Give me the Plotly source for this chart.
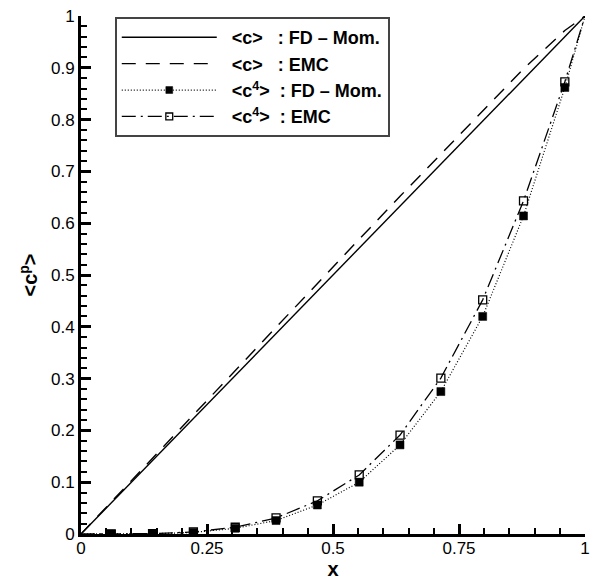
import plotly.graph_objects as go

# ---- data ----
x_lin = [0.0, 1.0]
c_fd = [0.0, 1.0]

x_pts = [0.0, 0.060, 0.142, 0.223, 0.306, 0.387, 0.469, 0.552, 0.633, 0.714, 0.797, 0.878, 0.960, 1.0]
c_emc = [0.0, 0.062, 0.146, 0.229, 0.315, 0.399, 0.484, 0.569, 0.652, 0.734, 0.818, 0.898, 0.972, 1.0]
c4_fd = [0.0, 0.0, 0.0005, 0.003, 0.011, 0.026, 0.056, 0.100, 0.172, 0.275, 0.420, 0.614, 0.862, 1.0]
c4_emc = [0.0, 0.0, 0.0006, 0.004, 0.013, 0.031, 0.064, 0.114, 0.191, 0.301, 0.452, 0.643, 0.873, 1.0]
# markers only at interior points
msize = [0] + [8] * 12 + [0]

names = [
    "&nbsp;&nbsp;&lt;c&gt;&nbsp;&nbsp;&nbsp;: FD \u2013 Mom.",
    "&nbsp;&nbsp;&lt;c&gt;&nbsp;&nbsp;&nbsp;: EMC",
    "&nbsp;&nbsp;&lt;c<sup>4</sup>&gt;&nbsp;&nbsp;: FD \u2013 Mom.",
    "&nbsp;&nbsp;&lt;c<sup>4</sup>&gt;&nbsp;&nbsp;: EMC",
]

FONT = "Liberation Sans, Arial, Helvetica, sans-serif"

fig = go.Figure()
fig.add_trace(go.Scatter(x=x_lin, y=c_fd, mode="lines", name=names[0],
                         line=dict(color="black", width=1.4)))
fig.add_trace(go.Scatter(x=x_pts, y=c_emc, mode="lines", name=names[1],
                         line=dict(color="black", width=1.4, dash="14px,10px")))
fig.add_trace(go.Scatter(x=x_pts, y=c4_fd, mode="lines+markers", name=names[2],
                         line=dict(color="black", width=1.2, dash="1px,2px"),
                         marker=dict(symbol="square", size=msize, color="black", opacity=1,
                                     line=dict(color="black", width=0.5))))
fig.add_trace(go.Scatter(x=x_pts, y=c4_emc, mode="lines+markers", name=names[3],
                         line=dict(color="black", width=1.3, dash="14px,5px,2px,5px"),
                         marker=dict(symbol="square-open", size=msize, color="black", opacity=1,
                                     line=dict(color="black", width=1.3))))

axis_common = dict(
    range=[0, 1], showgrid=False, zeroline=False, automargin=False,
    showline=True, linecolor="black", linewidth=3, mirror=False,
    ticks="inside", ticklen=10, tickwidth=2.5, tickcolor="black",
    tickfont=dict(family=FONT, size=17, color="black"),
)

fig.update_xaxes(**axis_common, dtick=0.25, tick0=0, ticklabelstandoff=-3,
                 minor=dict(dtick=0.05, ticks="inside", ticklen=6, tickwidth=1.5, tickcolor="black"),
                 title=dict(text="<b>x</b>", font=dict(family=FONT, size=20, color="black"), standoff=0))
fig.update_yaxes(**axis_common, dtick=0.1, tick0=0,
                 minor=dict(dtick=0.02, ticks="inside", ticklen=6, tickwidth=1.5, tickcolor="black"),
                 title=dict(text="<b>&lt;c<sup>p</sup>&gt;</b>", font=dict(family=FONT, size=20, color="black"), standoff=8))

fig.update_layout(
    width=595, height=580,
    margin=dict(l=81, r=10, t=16, b=46),
    paper_bgcolor="white", plot_bgcolor="white",
    font=dict(family=FONT, color="black"),
    showlegend=True,
    legend=dict(
        x=0.067, y=0.998, xanchor="left", yanchor="top",
        bgcolor="white", bordercolor="#444", borderwidth=2,
        font=dict(family=FONT, size=18, color="black", weight="bold"),
        itemwidth=95, tracegroupgap=0,
    ),
)

fig.write_html("out.html")
